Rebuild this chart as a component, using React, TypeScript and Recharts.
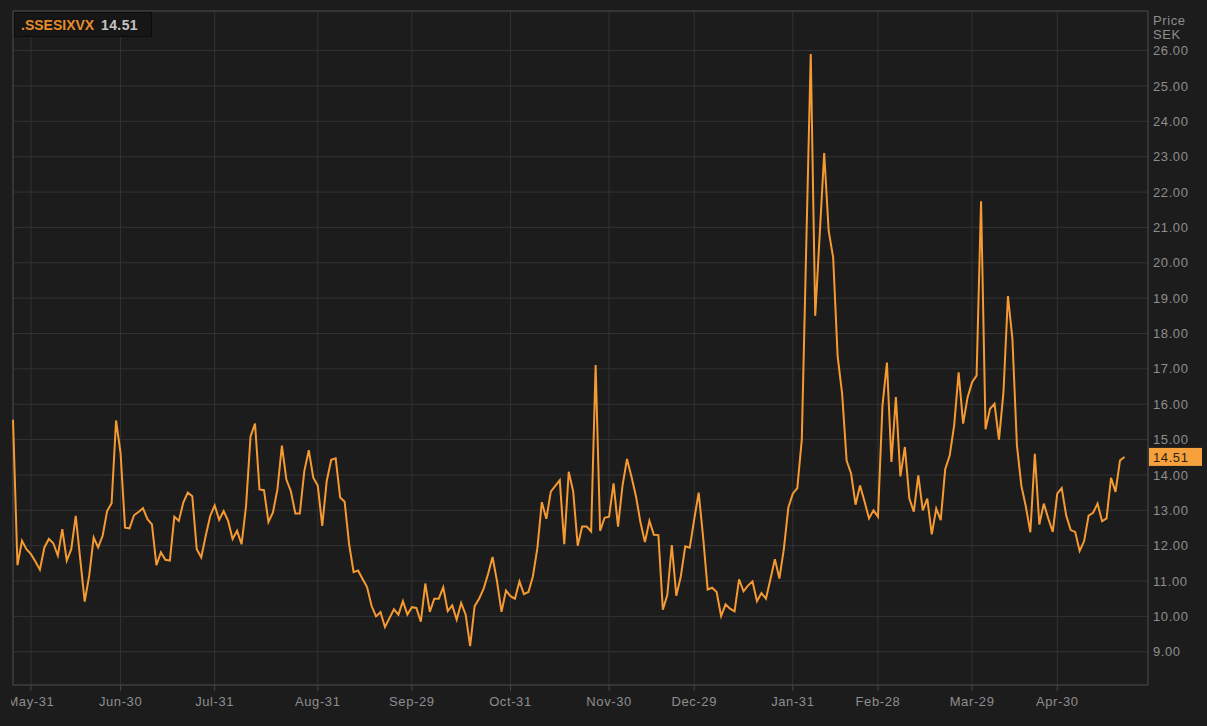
import React from 'react';
import { LineChart, Line, XAxis, YAxis, CartesianGrid, ReferenceArea, ReferenceLine } from 'recharts';

const seriesName = '.SSESIXVX';
const axisTitle = ['Price', 'SEK'];

// daily closing values, oldest first
const values: number[] = [
  15.56, 11.45, 12.14, 11.9, 11.76, 11.55, 11.32, 11.95, 12.19, 12.07,
  11.72, 12.47, 11.58, 11.9, 12.84, 11.62, 10.42, 11.15, 12.23, 11.95,
  12.28, 12.98, 13.2, 15.54, 14.62, 12.51, 12.49, 12.86, 12.95, 13.06,
  12.75, 12.6, 11.45, 11.81, 11.6, 11.58, 12.82, 12.7, 13.22, 13.5,
  13.4, 11.9, 11.67, 12.28, 12.84, 13.14, 12.73, 12.98, 12.7, 12.19,
  12.42, 12.04, 13.12, 15.09, 15.45, 13.59, 13.57, 12.67, 12.94, 13.59,
  14.83, 13.87, 13.54, 12.91, 12.91, 14.11, 14.7, 13.92, 13.7, 12.56,
  13.83, 14.43, 14.47, 13.36, 13.24, 12.04, 11.25, 11.3, 11.06, 10.83,
  10.3, 10.0, 10.12, 9.7, 9.95, 10.2, 10.05, 10.43, 10.05, 10.26,
  10.24, 9.85, 10.93, 10.13, 10.5, 10.5, 10.82, 10.15, 10.31, 9.91,
  10.38, 10.05, 9.16, 10.29, 10.5, 10.78, 11.2, 11.68, 10.99, 10.13,
  10.73, 10.57, 10.5, 10.99, 10.63, 10.69, 11.13, 11.93, 13.23, 12.76,
  13.53, 13.69, 13.85, 12.04, 14.09, 13.53, 12.0, 12.54, 12.54, 12.4,
  17.11, 12.42, 12.79, 12.82, 13.76, 12.54, 13.7, 14.45, 13.95, 13.4,
  12.66, 12.1, 12.7, 12.31, 12.3, 10.19, 10.61, 12.02, 10.58, 11.13,
  11.98, 11.94, 12.75, 13.5, 12.22, 10.76, 10.81, 10.69, 10.01, 10.34,
  10.22, 10.14, 11.05, 10.71, 10.87, 10.99, 10.43, 10.66, 10.5, 11.05,
  11.62, 11.07, 11.91, 13.08, 13.47, 13.63, 15.0, 20.5, 25.9, 18.5,
  20.8, 23.1, 20.9, 20.15, 17.35, 16.3, 14.41, 14.04, 13.16, 13.7,
  13.25, 12.77, 13.0, 12.82, 15.96, 17.18, 14.37, 16.2, 13.96, 14.79,
  13.33, 12.96, 13.99, 13.0, 13.33, 12.32, 13.05, 12.72, 14.16, 14.55,
  15.4, 16.9, 15.45, 16.2, 16.62, 16.81, 21.74, 15.29, 15.87, 16.01,
  15.0, 16.34, 19.06, 17.84, 14.84, 13.69, 13.1, 12.38, 14.6, 12.6,
  13.19, 12.77, 12.39, 13.47, 13.63, 12.85, 12.44, 12.39, 11.85, 12.13,
  12.85, 12.93, 13.19, 12.69, 12.77, 13.92, 13.52, 14.41, 14.51,
];

// trading-day index of each month-end label
const tickIndex = [4, 24, 45, 68, 89, 111, 133, 152, 174, 193, 214, 233];
const tickLabels = ['May-31', 'Jun-30', 'Jul-31', 'Aug-31', 'Sep-29', 'Oct-31', 'Nov-30', 'Dec-29', 'Jan-31', 'Feb-28', 'Mar-29', 'Apr-30'];
const priceTicks = [9, 10, 11, 12, 13, 14, 15, 16, 17, 18, 19, 20, 21, 22, 23, 24, 25, 26];

const X_DOMAIN: [number, number] = [0, 253.25];
const Y_DOMAIN: [number, number] = [8.06, 27.12];

const W = 1207;
const H = 726;
const BG = '#1c1c1d';
const GRID = '#333334';
const FRAME = '#454546';
const TEXT = '#8e8e8e';
const ORANGE = '#F59A32';
const FONT = '"Liberation Sans", Arial, sans-serif';

const PriceTag = (props: any) => {
  const vb = props.viewBox || {};
  const x = (vb.x || 0) + (vb.width || 0) + 1;
  const y = vb.y || 0;
  return (
    <g>
      <rect x={x} y={y - 9} width={53} height={18} fill="#F7A13C" />
      <text x={x + 4} y={y + 5} fill="#2a2118" fontSize={13} letterSpacing={0.6} fontFamily={FONT}>
        {props.text}
      </text>
    </g>
  );
};

export default function App() {
  const data = values.map((v, i) => ({ i, v }));
  const last = values[values.length - 1];
  const labelMap = new Map<number, string>(tickIndex.map((t, k) => [t, tickLabels[k]]));
  const tickStyle = { fill: TEXT, fontSize: 13, fontFamily: FONT, letterSpacing: 0.6 };
  return (
    <div style={{ position: 'fixed', left: 0, top: 0, width: W, height: H, background: BG, overflow: 'hidden', fontFamily: FONT }}>
      <div style={{ position: 'absolute', left: 11, top: 0, width: W - 11, height: H, overflow: 'hidden' }}>
        <div style={{ position: 'absolute', left: -11, top: 0 }}>
          <LineChart width={W} height={H} data={data} margin={{ top: 11, right: 0, bottom: 0, left: 13 }}>
            <CartesianGrid stroke={GRID} />
            <XAxis
              dataKey="i"
              type="number"
              domain={X_DOMAIN}
              ticks={tickIndex}
              interval={0}
              tickFormatter={(t: number) => labelMap.get(t) || ''}
              height={41}
              tickSize={6}
              tickMargin={6}
              stroke={FRAME}
              axisLine={false}
              tick={tickStyle}
            />
            <YAxis
              orientation="right"
              type="number"
              domain={Y_DOMAIN}
              allowDataOverflow
              ticks={priceTicks}
              interval={0}
              tickFormatter={(t: number) => t.toFixed(2)}
              width={59}
              tickLine={false}
              axisLine={false}
              tickSize={3}
              tickMargin={2}
              tick={tickStyle}
            />
            <ReferenceArea x1={X_DOMAIN[0]} x2={X_DOMAIN[1]} y1={Y_DOMAIN[0]} y2={Y_DOMAIN[1]} fill="none" stroke={FRAME} strokeWidth={1} />
            <Line type="linear" dataKey="v" stroke={ORANGE} strokeWidth={2} dot={false} activeDot={false} isAnimationActive={false} />
            <ReferenceLine y={last} stroke="none" label={<PriceTag text={last.toFixed(2)} />} />
          </LineChart>
        </div>
      </div>
      <svg width={W} height={H} style={{ position: 'absolute', left: 0, top: 0, pointerEvents: 'none' }}>
        <text x={1153} y={25} fill={TEXT} fontSize={13} letterSpacing={0.6} fontFamily={FONT}>{axisTitle[0]}</text>
        <text x={1153} y={39} fill={TEXT} fontSize={13} letterSpacing={0.6} fontFamily={FONT}>{axisTitle[1]}</text>
        <rect x={14.5} y={12.5} width={137} height={24} fill="#161617" stroke="#0b0b0b" />
        <text x={21} y={29.5} fill="#E58C2C" fontSize={14} fontWeight="bold" fontFamily={FONT}>{seriesName}</text>
        <text x={101} y={29.5} fill="#c4c4c4" fontSize={14} fontWeight="bold" letterSpacing={0.4} fontFamily={FONT}>{last.toFixed(2)}</text>
      </svg>
    </div>
  );
}
